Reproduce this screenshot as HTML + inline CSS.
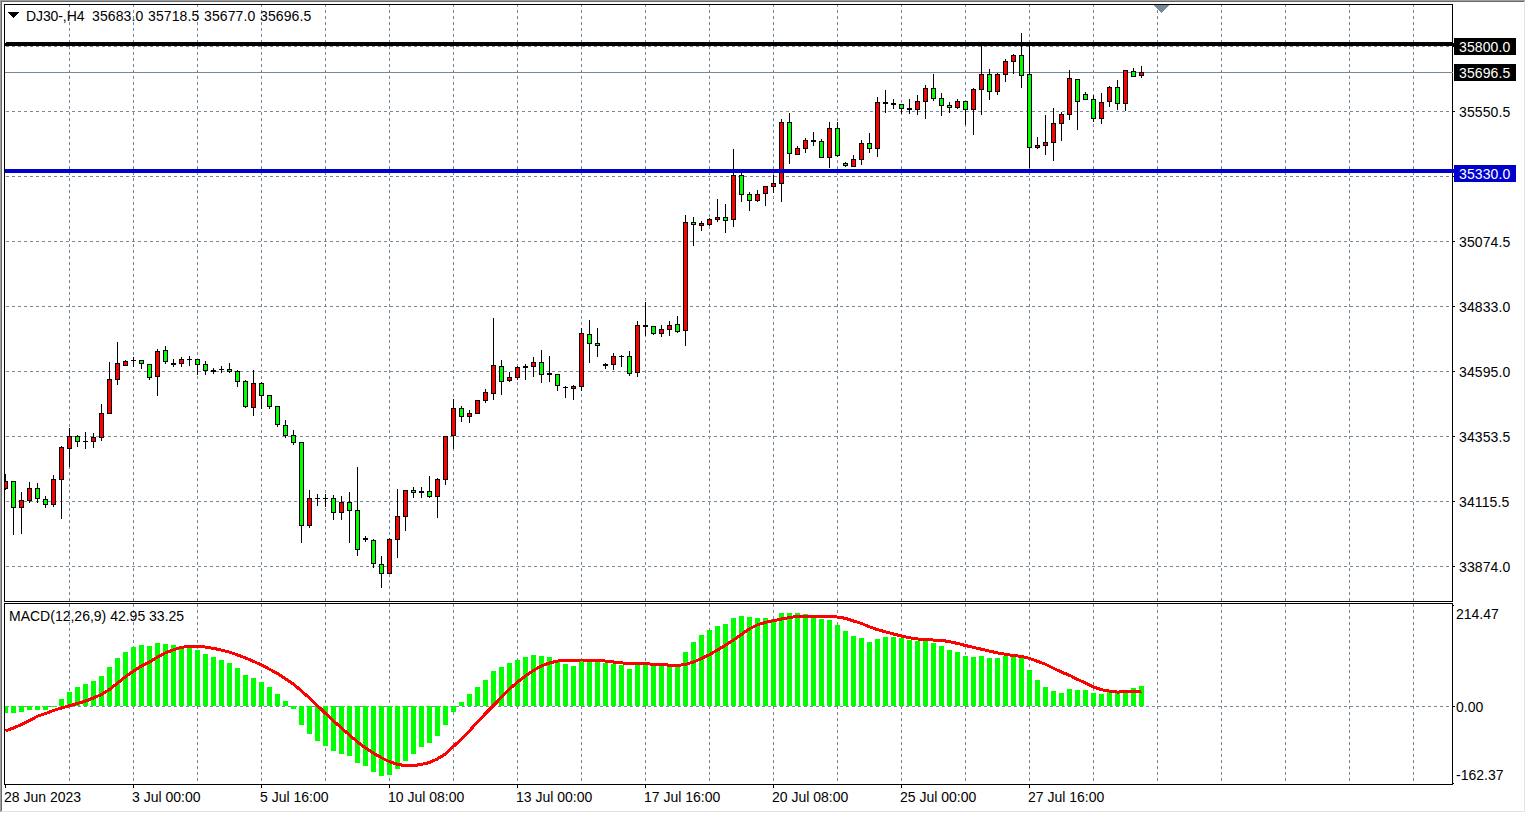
<!DOCTYPE html>
<html><head><meta charset="utf-8"><title>DJ30-,H4</title>
<style>
html,body{margin:0;padding:0;background:#fff;}
body{width:1526px;height:813px;overflow:hidden;position:relative;font-family:"Liberation Sans",sans-serif;}
svg{position:absolute;left:0;top:0;display:block;}
text{font-family:"Liberation Sans",sans-serif;font-size:14px;fill:#000;}
.n{letter-spacing:0.12px;}
.t{letter-spacing:-0.1px;}
.w{fill:#fff;}
</style></head><body>
<svg width="1526" height="813" viewBox="0 0 1526 813">
<rect x="0" y="0" width="1526" height="813" fill="#fff"/>
<g shape-rendering="crispEdges">
<rect x="0" y="0" width="1525" height="1" fill="#a0a0a0"/><rect x="0" y="0" width="1" height="812" fill="#a0a0a0"/><rect x="1" y="1" width="1523" height="1" fill="#696969"/><rect x="1" y="1" width="1" height="810" fill="#696969"/><rect x="1524" y="1" width="1" height="811" fill="#e3e3e3"/><rect x="1" y="811" width="1524" height="1" fill="#e3e3e3"/>
<g stroke="#778899" stroke-width="1" stroke-dasharray="3 3" fill="none">
<line x1="69.5" y1="5" x2="69.5" y2="601" stroke-dashoffset="1"/><line x1="69.5" y1="604" x2="69.5" y2="784" stroke-dashoffset="0"/>
<line x1="133.5" y1="5" x2="133.5" y2="601" stroke-dashoffset="1"/><line x1="133.5" y1="604" x2="133.5" y2="784" stroke-dashoffset="0"/>
<line x1="197.5" y1="5" x2="197.5" y2="601" stroke-dashoffset="1"/><line x1="197.5" y1="604" x2="197.5" y2="784" stroke-dashoffset="0"/>
<line x1="261.5" y1="5" x2="261.5" y2="601" stroke-dashoffset="1"/><line x1="261.5" y1="604" x2="261.5" y2="784" stroke-dashoffset="0"/>
<line x1="325.5" y1="5" x2="325.5" y2="601" stroke-dashoffset="1"/><line x1="325.5" y1="604" x2="325.5" y2="784" stroke-dashoffset="0"/>
<line x1="389.5" y1="5" x2="389.5" y2="601" stroke-dashoffset="1"/><line x1="389.5" y1="604" x2="389.5" y2="784" stroke-dashoffset="0"/>
<line x1="453.5" y1="5" x2="453.5" y2="601" stroke-dashoffset="1"/><line x1="453.5" y1="604" x2="453.5" y2="784" stroke-dashoffset="0"/>
<line x1="517.5" y1="5" x2="517.5" y2="601" stroke-dashoffset="1"/><line x1="517.5" y1="604" x2="517.5" y2="784" stroke-dashoffset="0"/>
<line x1="581.5" y1="5" x2="581.5" y2="601" stroke-dashoffset="1"/><line x1="581.5" y1="604" x2="581.5" y2="784" stroke-dashoffset="0"/>
<line x1="645.5" y1="5" x2="645.5" y2="601" stroke-dashoffset="1"/><line x1="645.5" y1="604" x2="645.5" y2="784" stroke-dashoffset="0"/>
<line x1="709.5" y1="5" x2="709.5" y2="601" stroke-dashoffset="1"/><line x1="709.5" y1="604" x2="709.5" y2="784" stroke-dashoffset="0"/>
<line x1="773.5" y1="5" x2="773.5" y2="601" stroke-dashoffset="1"/><line x1="773.5" y1="604" x2="773.5" y2="784" stroke-dashoffset="0"/>
<line x1="837.5" y1="5" x2="837.5" y2="601" stroke-dashoffset="1"/><line x1="837.5" y1="604" x2="837.5" y2="784" stroke-dashoffset="0"/>
<line x1="901.5" y1="5" x2="901.5" y2="601" stroke-dashoffset="1"/><line x1="901.5" y1="604" x2="901.5" y2="784" stroke-dashoffset="0"/>
<line x1="965.5" y1="5" x2="965.5" y2="601" stroke-dashoffset="1"/><line x1="965.5" y1="604" x2="965.5" y2="784" stroke-dashoffset="0"/>
<line x1="1029.5" y1="5" x2="1029.5" y2="601" stroke-dashoffset="1"/><line x1="1029.5" y1="604" x2="1029.5" y2="784" stroke-dashoffset="0"/>
<line x1="1093.5" y1="5" x2="1093.5" y2="601" stroke-dashoffset="1"/><line x1="1093.5" y1="604" x2="1093.5" y2="784" stroke-dashoffset="0"/>
<line x1="1157.5" y1="5" x2="1157.5" y2="601" stroke-dashoffset="1"/><line x1="1157.5" y1="604" x2="1157.5" y2="784" stroke-dashoffset="0"/>
<line x1="1221.5" y1="5" x2="1221.5" y2="601" stroke-dashoffset="1"/><line x1="1221.5" y1="604" x2="1221.5" y2="784" stroke-dashoffset="0"/>
<line x1="1285.5" y1="5" x2="1285.5" y2="601" stroke-dashoffset="1"/><line x1="1285.5" y1="604" x2="1285.5" y2="784" stroke-dashoffset="0"/>
<line x1="1349.5" y1="5" x2="1349.5" y2="601" stroke-dashoffset="1"/><line x1="1349.5" y1="604" x2="1349.5" y2="784" stroke-dashoffset="0"/>
<line x1="1413.5" y1="5" x2="1413.5" y2="601" stroke-dashoffset="1"/><line x1="1413.5" y1="604" x2="1413.5" y2="784" stroke-dashoffset="0"/>
<line x1="5" y1="46.5" x2="1452" y2="46.5" stroke-dashoffset="5"/>
<line x1="5" y1="111.5" x2="1452" y2="111.5" stroke-dashoffset="5"/>
<line x1="5" y1="176.5" x2="1452" y2="176.5" stroke-dashoffset="5"/>
<line x1="5" y1="241.5" x2="1452" y2="241.5" stroke-dashoffset="5"/>
<line x1="5" y1="306.5" x2="1452" y2="306.5" stroke-dashoffset="5"/>
<line x1="5" y1="371.5" x2="1452" y2="371.5" stroke-dashoffset="5"/>
<line x1="5" y1="436.5" x2="1452" y2="436.5" stroke-dashoffset="5"/>
<line x1="5" y1="501.5" x2="1452" y2="501.5" stroke-dashoffset="5"/>
<line x1="5" y1="566.5" x2="1452" y2="566.5" stroke-dashoffset="5"/>
<line x1="5" y1="706.5" x2="1452" y2="706.5" stroke-dashoffset="5"/></g>
<rect x="5" y="72" width="1447" height="1" fill="#778899"/>
<g fill="#00ff00">
<rect x="5" y="706" width="3" height="7"/><rect x="11" y="706" width="5" height="7"/><rect x="19" y="706" width="5" height="6"/><rect x="27" y="706" width="5" height="4"/><rect x="35" y="706" width="5" height="4"/><rect x="43" y="706" width="5" height="4"/><rect x="51" y="706" width="5" height="1"/><rect x="59" y="699" width="5" height="7"/><rect x="67" y="692" width="5" height="14"/><rect x="75" y="687" width="5" height="19"/><rect x="83" y="684" width="5" height="22"/><rect x="91" y="681" width="5" height="25"/><rect x="99" y="676" width="5" height="30"/><rect x="107" y="667" width="5" height="39"/><rect x="115" y="658" width="5" height="48"/><rect x="123" y="652" width="5" height="54"/><rect x="131" y="647" width="5" height="59"/><rect x="139" y="645" width="5" height="61"/><rect x="147" y="646" width="5" height="60"/><rect x="155" y="643" width="5" height="63"/><rect x="163" y="644" width="5" height="62"/><rect x="171" y="645" width="5" height="61"/><rect x="179" y="646" width="5" height="60"/><rect x="187" y="647" width="5" height="59"/><rect x="195" y="650" width="5" height="56"/><rect x="203" y="654" width="5" height="52"/><rect x="211" y="657" width="5" height="49"/><rect x="219" y="660" width="5" height="46"/><rect x="227" y="663" width="5" height="43"/><rect x="235" y="668" width="5" height="38"/><rect x="243" y="675" width="5" height="31"/><rect x="251" y="678" width="5" height="28"/><rect x="259" y="682" width="5" height="24"/><rect x="267" y="687" width="5" height="19"/><rect x="275" y="694" width="5" height="12"/><rect x="283" y="701" width="5" height="5"/><rect x="291" y="706" width="5" height="3"/><rect x="299" y="706" width="5" height="19"/><rect x="307" y="706" width="5" height="28"/><rect x="315" y="706" width="5" height="35"/><rect x="323" y="706" width="5" height="40"/><rect x="331" y="706" width="5" height="45"/><rect x="339" y="706" width="5" height="48"/><rect x="347" y="706" width="5" height="50"/><rect x="355" y="706" width="5" height="57"/><rect x="363" y="706" width="5" height="60"/><rect x="371" y="706" width="5" height="66"/><rect x="379" y="706" width="5" height="70"/><rect x="387" y="706" width="5" height="69"/><rect x="395" y="706" width="5" height="63"/><rect x="403" y="706" width="5" height="55"/><rect x="411" y="706" width="5" height="48"/><rect x="419" y="706" width="5" height="41"/><rect x="427" y="706" width="5" height="37"/><rect x="435" y="706" width="5" height="30"/><rect x="443" y="706" width="5" height="19"/><rect x="451" y="706" width="5" height="6"/><rect x="459" y="702" width="5" height="4"/><rect x="467" y="694" width="5" height="12"/><rect x="475" y="687" width="5" height="19"/><rect x="483" y="680" width="5" height="26"/><rect x="491" y="671" width="5" height="35"/><rect x="499" y="667" width="5" height="39"/><rect x="507" y="663" width="5" height="43"/><rect x="515" y="660" width="5" height="46"/><rect x="523" y="657" width="5" height="49"/><rect x="531" y="655" width="5" height="51"/><rect x="539" y="656" width="5" height="50"/><rect x="547" y="657" width="5" height="49"/><rect x="555" y="661" width="5" height="45"/><rect x="563" y="664" width="5" height="42"/><rect x="571" y="666" width="5" height="40"/><rect x="579" y="661" width="5" height="45"/><rect x="587" y="661" width="5" height="45"/><rect x="595" y="661" width="5" height="45"/><rect x="603" y="663" width="5" height="43"/><rect x="611" y="664" width="5" height="42"/><rect x="619" y="665" width="5" height="41"/><rect x="627" y="669" width="5" height="37"/><rect x="635" y="665" width="5" height="41"/><rect x="643" y="665" width="5" height="41"/><rect x="651" y="665" width="5" height="41"/><rect x="659" y="666" width="5" height="40"/><rect x="667" y="667" width="5" height="39"/><rect x="675" y="667" width="5" height="39"/><rect x="683" y="652" width="5" height="54"/><rect x="691" y="642" width="5" height="64"/><rect x="699" y="635" width="5" height="71"/><rect x="707" y="630" width="5" height="76"/><rect x="715" y="626" width="5" height="80"/><rect x="723" y="624" width="5" height="82"/><rect x="731" y="618" width="5" height="88"/><rect x="739" y="616" width="5" height="90"/><rect x="747" y="617" width="5" height="89"/><rect x="755" y="618" width="5" height="88"/><rect x="763" y="618" width="5" height="88"/><rect x="771" y="619" width="5" height="87"/><rect x="779" y="613" width="5" height="93"/><rect x="787" y="613" width="5" height="93"/><rect x="795" y="613" width="5" height="93"/><rect x="803" y="614" width="5" height="92"/><rect x="811" y="616" width="5" height="90"/><rect x="819" y="619" width="5" height="87"/><rect x="827" y="620" width="5" height="86"/><rect x="835" y="625" width="5" height="81"/><rect x="843" y="631" width="5" height="75"/><rect x="851" y="636" width="5" height="70"/><rect x="859" y="638" width="5" height="68"/><rect x="867" y="642" width="5" height="64"/><rect x="875" y="639" width="5" height="67"/><rect x="883" y="637" width="5" height="69"/><rect x="891" y="637" width="5" height="69"/><rect x="899" y="638" width="5" height="68"/><rect x="907" y="640" width="5" height="66"/><rect x="915" y="641" width="5" height="65"/><rect x="923" y="641" width="5" height="65"/><rect x="931" y="643" width="5" height="63"/><rect x="939" y="646" width="5" height="60"/><rect x="947" y="650" width="5" height="56"/><rect x="955" y="652" width="5" height="54"/><rect x="963" y="656" width="5" height="50"/><rect x="971" y="657" width="5" height="49"/><rect x="979" y="656" width="5" height="50"/><rect x="987" y="658" width="5" height="48"/><rect x="995" y="658" width="5" height="48"/><rect x="1003" y="656" width="5" height="50"/><rect x="1011" y="657" width="5" height="49"/><rect x="1019" y="658" width="5" height="48"/><rect x="1027" y="670" width="5" height="36"/><rect x="1035" y="680" width="5" height="26"/><rect x="1043" y="687" width="5" height="19"/><rect x="1051" y="691" width="5" height="15"/><rect x="1059" y="693" width="5" height="13"/><rect x="1067" y="689" width="5" height="17"/><rect x="1075" y="690" width="5" height="16"/><rect x="1083" y="690" width="5" height="16"/><rect x="1091" y="693" width="5" height="13"/><rect x="1099" y="694" width="5" height="12"/><rect x="1107" y="692" width="5" height="14"/><rect x="1115" y="693" width="5" height="13"/><rect x="1123" y="692" width="5" height="14"/><rect x="1131" y="688" width="5" height="18"/><rect x="1139" y="686" width="5" height="20"/>
</g>
<g>
<rect x="5" y="474" width="1" height="16" fill="#000"/><rect x="5" y="481" width="3" height="8" fill="#000"/><rect x="5" y="482" width="2" height="6" fill="#ff0000"/>
<rect x="13" y="481" width="1" height="54" fill="#000"/><rect x="11" y="481" width="5" height="27" fill="#000"/><rect x="12" y="482" width="3" height="25" fill="#00ff00"/>
<rect x="21" y="492" width="1" height="42" fill="#000"/><rect x="19" y="500" width="5" height="8" fill="#000"/><rect x="20" y="501" width="3" height="6" fill="#ff0000"/>
<rect x="29" y="482" width="1" height="21" fill="#000"/><rect x="27" y="488" width="5" height="13" fill="#000"/><rect x="28" y="489" width="3" height="11" fill="#ff0000"/>
<rect x="37" y="483" width="1" height="20" fill="#000"/><rect x="35" y="488" width="5" height="11" fill="#000"/><rect x="36" y="489" width="3" height="9" fill="#00ff00"/>
<rect x="45" y="496" width="1" height="12" fill="#000"/><rect x="43" y="499" width="5" height="6" fill="#000"/><rect x="44" y="500" width="3" height="4" fill="#00ff00"/>
<rect x="53" y="475" width="1" height="32" fill="#000"/><rect x="51" y="479" width="5" height="26" fill="#000"/><rect x="52" y="480" width="3" height="24" fill="#ff0000"/>
<rect x="61" y="446" width="1" height="73" fill="#000"/><rect x="59" y="447" width="5" height="33" fill="#000"/><rect x="60" y="448" width="3" height="31" fill="#ff0000"/>
<rect x="69" y="428" width="1" height="39" fill="#000"/><rect x="67" y="436" width="5" height="13" fill="#000"/><rect x="68" y="437" width="3" height="11" fill="#ff0000"/>
<rect x="77" y="435" width="1" height="12" fill="#000"/><rect x="75" y="436" width="5" height="6" fill="#000"/><rect x="76" y="437" width="3" height="4" fill="#00ff00"/>
<rect x="85" y="432" width="1" height="17" fill="#000"/><rect x="83" y="441" width="5" height="1" fill="#000"/>
<rect x="93" y="433" width="1" height="15" fill="#000"/><rect x="91" y="437" width="5" height="5" fill="#000"/><rect x="92" y="438" width="3" height="3" fill="#ff0000"/>
<rect x="101" y="404" width="1" height="37" fill="#000"/><rect x="99" y="413" width="5" height="25" fill="#000"/><rect x="100" y="414" width="3" height="23" fill="#ff0000"/>
<rect x="109" y="362" width="1" height="52" fill="#000"/><rect x="107" y="379" width="5" height="35" fill="#000"/><rect x="108" y="380" width="3" height="33" fill="#ff0000"/>
<rect x="117" y="342" width="1" height="43" fill="#000"/><rect x="115" y="363" width="5" height="17" fill="#000"/><rect x="116" y="364" width="3" height="15" fill="#ff0000"/>
<rect x="125" y="360" width="1" height="6" fill="#000"/><rect x="123" y="361" width="5" height="5" fill="#000"/><rect x="124" y="362" width="3" height="3" fill="#ff0000"/>
<rect x="133" y="357" width="1" height="10" fill="#000"/><rect x="131" y="360" width="5" height="1" fill="#000"/>
<rect x="141" y="360" width="1" height="9" fill="#000"/><rect x="139" y="360" width="5" height="4" fill="#000"/><rect x="140" y="361" width="3" height="2" fill="#00ff00"/>
<rect x="149" y="364" width="1" height="16" fill="#000"/><rect x="147" y="364" width="5" height="14" fill="#000"/><rect x="148" y="365" width="3" height="12" fill="#00ff00"/>
<rect x="157" y="349" width="1" height="47" fill="#000"/><rect x="155" y="351" width="5" height="26" fill="#000"/><rect x="156" y="352" width="3" height="24" fill="#ff0000"/>
<rect x="165" y="346" width="1" height="18" fill="#000"/><rect x="163" y="350" width="5" height="12" fill="#000"/><rect x="164" y="351" width="3" height="10" fill="#00ff00"/>
<rect x="173" y="359" width="1" height="8" fill="#000"/><rect x="171" y="363" width="5" height="2" fill="#000"/>
<rect x="181" y="357" width="1" height="10" fill="#000"/><rect x="179" y="359" width="5" height="5" fill="#000"/><rect x="180" y="360" width="3" height="3" fill="#ff0000"/>
<rect x="189" y="356" width="1" height="10" fill="#000"/><rect x="187" y="359" width="5" height="1" fill="#000"/>
<rect x="197" y="359" width="1" height="16" fill="#000"/><rect x="195" y="359" width="5" height="6" fill="#000"/><rect x="196" y="360" width="3" height="4" fill="#00ff00"/>
<rect x="205" y="361" width="1" height="14" fill="#000"/><rect x="203" y="364" width="5" height="7" fill="#000"/><rect x="204" y="365" width="3" height="5" fill="#00ff00"/>
<rect x="213" y="368" width="1" height="6" fill="#000"/><rect x="211" y="370" width="5" height="2" fill="#000"/>
<rect x="221" y="366" width="1" height="7" fill="#000"/><rect x="219" y="369" width="5" height="1" fill="#000"/>
<rect x="229" y="363" width="1" height="10" fill="#000"/><rect x="227" y="369" width="5" height="3" fill="#000"/><rect x="228" y="370" width="3" height="1" fill="#00ff00"/>
<rect x="237" y="370" width="1" height="17" fill="#000"/><rect x="235" y="371" width="5" height="11" fill="#000"/><rect x="236" y="372" width="3" height="9" fill="#00ff00"/>
<rect x="245" y="380" width="1" height="28" fill="#000"/><rect x="243" y="381" width="5" height="26" fill="#000"/><rect x="244" y="382" width="3" height="24" fill="#00ff00"/>
<rect x="253" y="370" width="1" height="46" fill="#000"/><rect x="251" y="383" width="5" height="25" fill="#000"/><rect x="252" y="384" width="3" height="23" fill="#ff0000"/>
<rect x="261" y="382" width="1" height="27" fill="#000"/><rect x="259" y="383" width="5" height="13" fill="#000"/><rect x="260" y="384" width="3" height="11" fill="#00ff00"/>
<rect x="269" y="395" width="1" height="14" fill="#000"/><rect x="267" y="395" width="5" height="12" fill="#000"/><rect x="268" y="396" width="3" height="10" fill="#00ff00"/>
<rect x="277" y="406" width="1" height="21" fill="#000"/><rect x="275" y="406" width="5" height="19" fill="#000"/><rect x="276" y="407" width="3" height="17" fill="#00ff00"/>
<rect x="285" y="420" width="1" height="18" fill="#000"/><rect x="283" y="425" width="5" height="11" fill="#000"/><rect x="284" y="426" width="3" height="9" fill="#00ff00"/>
<rect x="293" y="430" width="1" height="15" fill="#000"/><rect x="291" y="435" width="5" height="8" fill="#000"/><rect x="292" y="436" width="3" height="6" fill="#00ff00"/>
<rect x="301" y="442" width="1" height="101" fill="#000"/><rect x="299" y="442" width="5" height="84" fill="#000"/><rect x="300" y="443" width="3" height="82" fill="#00ff00"/>
<rect x="309" y="490" width="1" height="38" fill="#000"/><rect x="307" y="498" width="5" height="28" fill="#000"/><rect x="308" y="499" width="3" height="26" fill="#ff0000"/>
<rect x="317" y="494" width="1" height="12" fill="#000"/><rect x="315" y="498" width="5" height="1" fill="#000"/>
<rect x="325" y="494" width="1" height="13" fill="#000"/><rect x="323" y="498" width="5" height="1" fill="#000"/>
<rect x="333" y="495" width="1" height="25" fill="#000"/><rect x="331" y="498" width="5" height="15" fill="#000"/><rect x="332" y="499" width="3" height="13" fill="#00ff00"/>
<rect x="341" y="496" width="1" height="24" fill="#000"/><rect x="339" y="502" width="5" height="11" fill="#000"/><rect x="340" y="503" width="3" height="9" fill="#ff0000"/>
<rect x="349" y="492" width="1" height="51" fill="#000"/><rect x="347" y="502" width="5" height="9" fill="#000"/><rect x="348" y="503" width="3" height="7" fill="#00ff00"/>
<rect x="357" y="467" width="1" height="89" fill="#000"/><rect x="355" y="510" width="5" height="40" fill="#000"/><rect x="356" y="511" width="3" height="38" fill="#00ff00"/>
<rect x="365" y="536" width="1" height="6" fill="#000"/><rect x="363" y="538" width="5" height="2" fill="#000"/>
<rect x="373" y="539" width="1" height="29" fill="#000"/><rect x="371" y="540" width="5" height="24" fill="#000"/><rect x="372" y="541" width="3" height="22" fill="#00ff00"/>
<rect x="381" y="556" width="1" height="32" fill="#000"/><rect x="379" y="564" width="5" height="10" fill="#000"/><rect x="380" y="565" width="3" height="8" fill="#00ff00"/>
<rect x="389" y="538" width="1" height="36" fill="#000"/><rect x="387" y="539" width="5" height="35" fill="#000"/><rect x="388" y="540" width="3" height="33" fill="#ff0000"/>
<rect x="397" y="489" width="1" height="69" fill="#000"/><rect x="395" y="516" width="5" height="24" fill="#000"/><rect x="396" y="517" width="3" height="22" fill="#ff0000"/>
<rect x="405" y="490" width="1" height="41" fill="#000"/><rect x="403" y="490" width="5" height="27" fill="#000"/><rect x="404" y="491" width="3" height="25" fill="#ff0000"/>
<rect x="413" y="487" width="1" height="11" fill="#000"/><rect x="411" y="490" width="5" height="3" fill="#000"/><rect x="412" y="491" width="3" height="1" fill="#00ff00"/>
<rect x="421" y="487" width="1" height="11" fill="#000"/><rect x="419" y="491" width="5" height="2" fill="#000"/>
<rect x="429" y="476" width="1" height="22" fill="#000"/><rect x="427" y="491" width="5" height="6" fill="#000"/><rect x="428" y="492" width="3" height="4" fill="#00ff00"/>
<rect x="437" y="478" width="1" height="40" fill="#000"/><rect x="435" y="479" width="5" height="18" fill="#000"/><rect x="436" y="480" width="3" height="16" fill="#ff0000"/>
<rect x="445" y="436" width="1" height="49" fill="#000"/><rect x="443" y="436" width="5" height="44" fill="#000"/><rect x="444" y="437" width="3" height="42" fill="#ff0000"/>
<rect x="453" y="399" width="1" height="50" fill="#000"/><rect x="451" y="408" width="5" height="28" fill="#000"/><rect x="452" y="409" width="3" height="26" fill="#ff0000"/>
<rect x="461" y="406" width="1" height="16" fill="#000"/><rect x="459" y="408" width="5" height="9" fill="#000"/><rect x="460" y="409" width="3" height="7" fill="#00ff00"/>
<rect x="469" y="410" width="1" height="13" fill="#000"/><rect x="467" y="413" width="5" height="4" fill="#000"/><rect x="468" y="414" width="3" height="2" fill="#ff0000"/>
<rect x="477" y="400" width="1" height="14" fill="#000"/><rect x="475" y="400" width="5" height="14" fill="#000"/><rect x="476" y="401" width="3" height="12" fill="#ff0000"/>
<rect x="485" y="389" width="1" height="14" fill="#000"/><rect x="483" y="392" width="5" height="9" fill="#000"/><rect x="484" y="393" width="3" height="7" fill="#ff0000"/>
<rect x="493" y="318" width="1" height="82" fill="#000"/><rect x="491" y="365" width="5" height="29" fill="#000"/><rect x="492" y="366" width="3" height="27" fill="#ff0000"/>
<rect x="501" y="360" width="1" height="35" fill="#000"/><rect x="499" y="366" width="5" height="16" fill="#000"/><rect x="500" y="367" width="3" height="14" fill="#00ff00"/>
<rect x="509" y="372" width="1" height="10" fill="#000"/><rect x="507" y="377" width="5" height="4" fill="#000"/><rect x="508" y="378" width="3" height="2" fill="#ff0000"/>
<rect x="517" y="366" width="1" height="14" fill="#000"/><rect x="515" y="367" width="5" height="11" fill="#000"/><rect x="516" y="368" width="3" height="9" fill="#ff0000"/>
<rect x="525" y="364" width="1" height="16" fill="#000"/><rect x="523" y="366" width="5" height="2" fill="#000"/>
<rect x="533" y="357" width="1" height="20" fill="#000"/><rect x="531" y="362" width="5" height="5" fill="#000"/><rect x="532" y="363" width="3" height="3" fill="#ff0000"/>
<rect x="541" y="350" width="1" height="33" fill="#000"/><rect x="539" y="362" width="5" height="13" fill="#000"/><rect x="540" y="363" width="3" height="11" fill="#00ff00"/>
<rect x="549" y="356" width="1" height="26" fill="#000"/><rect x="547" y="373" width="5" height="2" fill="#000"/>
<rect x="557" y="374" width="1" height="17" fill="#000"/><rect x="555" y="374" width="5" height="12" fill="#000"/><rect x="556" y="375" width="3" height="10" fill="#00ff00"/>
<rect x="565" y="386" width="1" height="12" fill="#000"/><rect x="563" y="387" width="5" height="1" fill="#000"/>
<rect x="573" y="385" width="1" height="15" fill="#000"/><rect x="571" y="386" width="5" height="3" fill="#000"/><rect x="572" y="387" width="3" height="1" fill="#ff0000"/>
<rect x="581" y="328" width="1" height="63" fill="#000"/><rect x="579" y="333" width="5" height="54" fill="#000"/><rect x="580" y="334" width="3" height="52" fill="#ff0000"/>
<rect x="589" y="320" width="1" height="43" fill="#000"/><rect x="587" y="334" width="5" height="10" fill="#000"/><rect x="588" y="335" width="3" height="8" fill="#00ff00"/>
<rect x="597" y="328" width="1" height="29" fill="#000"/><rect x="595" y="343" width="5" height="3" fill="#000"/><rect x="596" y="344" width="3" height="1" fill="#00ff00"/>
<rect x="605" y="363" width="1" height="6" fill="#000"/><rect x="603" y="364" width="5" height="2" fill="#000"/>
<rect x="613" y="353" width="1" height="17" fill="#000"/><rect x="611" y="356" width="5" height="9" fill="#000"/><rect x="612" y="357" width="3" height="7" fill="#ff0000"/>
<rect x="621" y="355" width="1" height="12" fill="#000"/><rect x="619" y="356" width="5" height="1" fill="#000"/>
<rect x="629" y="351" width="1" height="25" fill="#000"/><rect x="627" y="356" width="5" height="18" fill="#000"/><rect x="628" y="357" width="3" height="16" fill="#00ff00"/>
<rect x="637" y="321" width="1" height="56" fill="#000"/><rect x="635" y="325" width="5" height="48" fill="#000"/><rect x="636" y="326" width="3" height="46" fill="#ff0000"/>
<rect x="645" y="302" width="1" height="34" fill="#000"/><rect x="643" y="325" width="5" height="2" fill="#000"/>
<rect x="653" y="326" width="1" height="9" fill="#000"/><rect x="651" y="326" width="5" height="8" fill="#000"/><rect x="652" y="327" width="3" height="6" fill="#00ff00"/>
<rect x="661" y="325" width="1" height="12" fill="#000"/><rect x="659" y="329" width="5" height="5" fill="#000"/><rect x="660" y="330" width="3" height="3" fill="#ff0000"/>
<rect x="669" y="321" width="1" height="15" fill="#000"/><rect x="667" y="325" width="5" height="5" fill="#000"/><rect x="668" y="326" width="3" height="3" fill="#ff0000"/>
<rect x="677" y="316" width="1" height="17" fill="#000"/><rect x="675" y="324" width="5" height="8" fill="#000"/><rect x="676" y="325" width="3" height="6" fill="#00ff00"/>
<rect x="685" y="215" width="1" height="131" fill="#000"/><rect x="683" y="222" width="5" height="109" fill="#000"/><rect x="684" y="223" width="3" height="107" fill="#ff0000"/>
<rect x="693" y="217" width="1" height="29" fill="#000"/><rect x="691" y="222" width="5" height="3" fill="#000"/><rect x="692" y="223" width="3" height="1" fill="#00ff00"/>
<rect x="701" y="221" width="1" height="10" fill="#000"/><rect x="699" y="223" width="5" height="3" fill="#000"/><rect x="700" y="224" width="3" height="1" fill="#ff0000"/>
<rect x="709" y="218" width="1" height="8" fill="#000"/><rect x="707" y="219" width="5" height="6" fill="#000"/><rect x="708" y="220" width="3" height="4" fill="#ff0000"/>
<rect x="717" y="199" width="1" height="23" fill="#000"/><rect x="715" y="217" width="5" height="3" fill="#000"/><rect x="716" y="218" width="3" height="1" fill="#ff0000"/>
<rect x="725" y="204" width="1" height="29" fill="#000"/><rect x="723" y="217" width="5" height="4" fill="#000"/><rect x="724" y="218" width="3" height="2" fill="#00ff00"/>
<rect x="733" y="149" width="1" height="78" fill="#000"/><rect x="731" y="175" width="5" height="45" fill="#000"/><rect x="732" y="176" width="3" height="43" fill="#ff0000"/>
<rect x="741" y="173" width="1" height="29" fill="#000"/><rect x="739" y="175" width="5" height="20" fill="#000"/><rect x="740" y="176" width="3" height="18" fill="#00ff00"/>
<rect x="749" y="192" width="1" height="19" fill="#000"/><rect x="747" y="194" width="5" height="7" fill="#000"/><rect x="748" y="195" width="3" height="5" fill="#00ff00"/>
<rect x="757" y="190" width="1" height="12" fill="#000"/><rect x="755" y="194" width="5" height="7" fill="#000"/><rect x="756" y="195" width="3" height="5" fill="#ff0000"/>
<rect x="765" y="186" width="1" height="20" fill="#000"/><rect x="763" y="186" width="5" height="8" fill="#000"/><rect x="764" y="187" width="3" height="6" fill="#ff0000"/>
<rect x="773" y="175" width="1" height="18" fill="#000"/><rect x="771" y="183" width="5" height="4" fill="#000"/><rect x="772" y="184" width="3" height="2" fill="#ff0000"/>
<rect x="781" y="119" width="1" height="83" fill="#000"/><rect x="779" y="122" width="5" height="62" fill="#000"/><rect x="780" y="123" width="3" height="60" fill="#ff0000"/>
<rect x="789" y="113" width="1" height="51" fill="#000"/><rect x="787" y="122" width="5" height="32" fill="#000"/><rect x="788" y="123" width="3" height="30" fill="#00ff00"/>
<rect x="797" y="146" width="1" height="9" fill="#000"/><rect x="795" y="148" width="5" height="7" fill="#000"/><rect x="796" y="149" width="3" height="5" fill="#ff0000"/>
<rect x="805" y="138" width="1" height="15" fill="#000"/><rect x="803" y="140" width="5" height="9" fill="#000"/><rect x="804" y="141" width="3" height="7" fill="#ff0000"/>
<rect x="813" y="132" width="1" height="14" fill="#000"/><rect x="811" y="140" width="5" height="2" fill="#000"/>
<rect x="821" y="139" width="1" height="19" fill="#000"/><rect x="819" y="141" width="5" height="17" fill="#000"/><rect x="820" y="142" width="3" height="15" fill="#00ff00"/>
<rect x="829" y="122" width="1" height="46" fill="#000"/><rect x="827" y="128" width="5" height="30" fill="#000"/><rect x="828" y="129" width="3" height="28" fill="#ff0000"/>
<rect x="837" y="122" width="1" height="35" fill="#000"/><rect x="835" y="128" width="5" height="28" fill="#000"/><rect x="836" y="129" width="3" height="26" fill="#00ff00"/>
<rect x="845" y="162" width="1" height="5" fill="#000"/><rect x="843" y="163" width="5" height="3" fill="#000"/><rect x="844" y="164" width="3" height="1" fill="#00ff00"/>
<rect x="853" y="155" width="1" height="12" fill="#000"/><rect x="851" y="159" width="5" height="8" fill="#000"/><rect x="852" y="160" width="3" height="6" fill="#ff0000"/>
<rect x="861" y="140" width="1" height="25" fill="#000"/><rect x="859" y="143" width="5" height="17" fill="#000"/><rect x="860" y="144" width="3" height="15" fill="#ff0000"/>
<rect x="869" y="133" width="1" height="20" fill="#000"/><rect x="867" y="143" width="5" height="6" fill="#000"/><rect x="868" y="144" width="3" height="4" fill="#00ff00"/>
<rect x="877" y="97" width="1" height="60" fill="#000"/><rect x="875" y="102" width="5" height="47" fill="#000"/><rect x="876" y="103" width="3" height="45" fill="#ff0000"/>
<rect x="885" y="90" width="1" height="23" fill="#000"/><rect x="883" y="102" width="5" height="2" fill="#000"/>
<rect x="893" y="99" width="1" height="10" fill="#000"/><rect x="891" y="103" width="5" height="2" fill="#000"/>
<rect x="901" y="104" width="1" height="10" fill="#000"/><rect x="899" y="104" width="5" height="5" fill="#000"/><rect x="900" y="105" width="3" height="3" fill="#00ff00"/>
<rect x="909" y="99" width="1" height="15" fill="#000"/><rect x="907" y="108" width="5" height="2" fill="#000"/>
<rect x="917" y="95" width="1" height="20" fill="#000"/><rect x="915" y="101" width="5" height="9" fill="#000"/><rect x="916" y="102" width="3" height="7" fill="#ff0000"/>
<rect x="925" y="85" width="1" height="34" fill="#000"/><rect x="923" y="88" width="5" height="14" fill="#000"/><rect x="924" y="89" width="3" height="12" fill="#ff0000"/>
<rect x="933" y="74" width="1" height="27" fill="#000"/><rect x="931" y="88" width="5" height="11" fill="#000"/><rect x="932" y="89" width="3" height="9" fill="#00ff00"/>
<rect x="941" y="93" width="1" height="23" fill="#000"/><rect x="939" y="98" width="5" height="8" fill="#000"/><rect x="940" y="99" width="3" height="6" fill="#00ff00"/>
<rect x="949" y="102" width="1" height="11" fill="#000"/><rect x="947" y="105" width="5" height="3" fill="#000"/><rect x="948" y="106" width="3" height="1" fill="#00ff00"/>
<rect x="957" y="99" width="1" height="10" fill="#000"/><rect x="955" y="101" width="5" height="7" fill="#000"/><rect x="956" y="102" width="3" height="5" fill="#ff0000"/>
<rect x="965" y="101" width="1" height="24" fill="#000"/><rect x="963" y="101" width="5" height="9" fill="#000"/><rect x="964" y="102" width="3" height="7" fill="#00ff00"/>
<rect x="973" y="88" width="1" height="47" fill="#000"/><rect x="971" y="89" width="5" height="21" fill="#000"/><rect x="972" y="90" width="3" height="19" fill="#ff0000"/>
<rect x="981" y="44" width="1" height="71" fill="#000"/><rect x="979" y="74" width="5" height="16" fill="#000"/><rect x="980" y="75" width="3" height="14" fill="#ff0000"/>
<rect x="989" y="69" width="1" height="31" fill="#000"/><rect x="987" y="74" width="5" height="18" fill="#000"/><rect x="988" y="75" width="3" height="16" fill="#00ff00"/>
<rect x="997" y="73" width="1" height="22" fill="#000"/><rect x="995" y="74" width="5" height="18" fill="#000"/><rect x="996" y="75" width="3" height="16" fill="#ff0000"/>
<rect x="1005" y="59" width="1" height="23" fill="#000"/><rect x="1003" y="61" width="5" height="14" fill="#000"/><rect x="1004" y="62" width="3" height="12" fill="#ff0000"/>
<rect x="1013" y="54" width="1" height="20" fill="#000"/><rect x="1011" y="55" width="5" height="7" fill="#000"/><rect x="1012" y="56" width="3" height="5" fill="#ff0000"/>
<rect x="1021" y="33" width="1" height="55" fill="#000"/><rect x="1019" y="55" width="5" height="21" fill="#000"/><rect x="1020" y="56" width="3" height="19" fill="#00ff00"/>
<rect x="1029" y="46" width="1" height="122" fill="#000"/><rect x="1027" y="74" width="5" height="74" fill="#000"/><rect x="1028" y="75" width="3" height="72" fill="#00ff00"/>
<rect x="1037" y="137" width="1" height="12" fill="#000"/><rect x="1035" y="145" width="5" height="3" fill="#000"/><rect x="1036" y="146" width="3" height="1" fill="#ff0000"/>
<rect x="1045" y="115" width="1" height="40" fill="#000"/><rect x="1043" y="142" width="5" height="4" fill="#000"/><rect x="1044" y="143" width="3" height="2" fill="#ff0000"/>
<rect x="1053" y="108" width="1" height="53" fill="#000"/><rect x="1051" y="123" width="5" height="20" fill="#000"/><rect x="1052" y="124" width="3" height="18" fill="#ff0000"/>
<rect x="1061" y="112" width="1" height="29" fill="#000"/><rect x="1059" y="114" width="5" height="10" fill="#000"/><rect x="1060" y="115" width="3" height="8" fill="#ff0000"/>
<rect x="1069" y="70" width="1" height="50" fill="#000"/><rect x="1067" y="78" width="5" height="37" fill="#000"/><rect x="1068" y="79" width="3" height="35" fill="#ff0000"/>
<rect x="1077" y="79" width="1" height="51" fill="#000"/><rect x="1075" y="79" width="5" height="23" fill="#000"/><rect x="1076" y="80" width="3" height="21" fill="#00ff00"/>
<rect x="1085" y="92" width="1" height="8" fill="#000"/><rect x="1083" y="94" width="5" height="6" fill="#000"/><rect x="1084" y="95" width="3" height="4" fill="#00ff00"/>
<rect x="1093" y="95" width="1" height="27" fill="#000"/><rect x="1091" y="99" width="5" height="20" fill="#000"/><rect x="1092" y="100" width="3" height="18" fill="#00ff00"/>
<rect x="1101" y="93" width="1" height="31" fill="#000"/><rect x="1099" y="102" width="5" height="17" fill="#000"/><rect x="1100" y="103" width="3" height="15" fill="#ff0000"/>
<rect x="1109" y="86" width="1" height="21" fill="#000"/><rect x="1107" y="87" width="5" height="15" fill="#000"/><rect x="1108" y="88" width="3" height="13" fill="#ff0000"/>
<rect x="1117" y="80" width="1" height="30" fill="#000"/><rect x="1115" y="87" width="5" height="17" fill="#000"/><rect x="1116" y="88" width="3" height="15" fill="#00ff00"/>
<rect x="1125" y="70" width="1" height="41" fill="#000"/><rect x="1123" y="70" width="5" height="34" fill="#000"/><rect x="1124" y="71" width="3" height="32" fill="#ff0000"/>
<rect x="1133" y="68" width="1" height="9" fill="#000"/><rect x="1131" y="71" width="5" height="6" fill="#000"/><rect x="1132" y="72" width="3" height="4" fill="#00ff00"/>
<rect x="1141" y="66" width="1" height="12" fill="#000"/><rect x="1139" y="72" width="5" height="4" fill="#000"/><rect x="1140" y="73" width="3" height="2" fill="#ff0000"/>
</g>
<rect x="6" y="42" width="1447" height="1" fill="#000"/><rect x="5" y="43" width="1448" height="3" fill="#000"/>
<rect x="5" y="169" width="1449" height="4" fill="#0000cd"/>
<g fill="none" stroke="#000" stroke-width="1"><rect x="4.5" y="4.5" width="1448" height="597"/><rect x="4.5" y="603.5" width="1448" height="181"/></g>
<rect x="1452" y="42" width="1" height="4" fill="#000"/><rect x="1453" y="43" width="1" height="4" fill="#000"/><rect x="1452" y="72" width="1" height="1" fill="#778899"/><rect x="1452" y="169" width="2" height="4" fill="#0000cd"/>
<g fill="#000"><rect x="1453" y="111" width="2" height="1"/><rect x="1453" y="176" width="2" height="1"/><rect x="1453" y="241" width="2" height="1"/><rect x="1453" y="306" width="2" height="1"/><rect x="1453" y="371" width="2" height="1"/><rect x="1453" y="436" width="2" height="1"/><rect x="1453" y="501" width="2" height="1"/><rect x="1453" y="566" width="2" height="1"/><rect x="1453" y="706" width="2" height="1"/><rect x="1453" y="605" width="1" height="1"/><rect x="1453" y="783" width="1" height="1"/><rect x="5" y="785" width="1" height="3"/><rect x="133" y="785" width="1" height="3"/><rect x="261" y="785" width="1" height="3"/><rect x="389" y="785" width="1" height="3"/><rect x="517" y="785" width="1" height="3"/><rect x="645" y="785" width="1" height="3"/><rect x="773" y="785" width="1" height="3"/><rect x="901" y="785" width="1" height="3"/><rect x="1029" y="785" width="1" height="3"/></g>
<g fill="#778899"><rect x="1154" y="5" width="15" height="1"/><rect x="1155" y="6" width="13" height="1"/><rect x="1156" y="7" width="11" height="1"/><rect x="1157" y="8" width="9" height="1"/><rect x="1158" y="9" width="7" height="1"/><rect x="1159" y="10" width="5" height="1"/><rect x="1160" y="11" width="3" height="1"/><rect x="1161" y="12" width="1" height="1"/></g>
<g fill="#000"><rect x="8" y="12" width="11" height="1"/><rect x="9" y="13" width="9" height="1"/><rect x="10" y="14" width="7" height="1"/><rect x="11" y="15" width="5" height="1"/><rect x="12" y="16" width="3" height="1"/><rect x="13" y="17" width="1" height="1"/></g>
<rect x="1454" y="38" width="62" height="17" fill="#000"/><rect x="1454" y="64" width="62" height="17" fill="#000"/><rect x="1454" y="165" width="62" height="17" fill="#0000cd"/>
</g>
<polyline fill="none" stroke="#ff0000" stroke-width="3" stroke-linejoin="round" shape-rendering="crispEdges" points="5.5,731.0 13.5,727.9 21.5,724.7 29.5,720.5 37.5,716.2 45.5,713.6 53.5,710.5 61.5,708.0 69.5,705.7 77.5,703.4 85.5,701.1 93.5,697.9 101.5,694.5 109.5,689.5 117.5,683.1 125.5,676.7 133.5,671.2 141.5,666.0 149.5,662.1 157.5,657.1 165.5,652.8 173.5,649.8 181.5,647.3 189.5,646.3 197.5,646.2 205.5,647.1 213.5,648.4 221.5,650.1 229.5,652.1 237.5,654.9 245.5,658.0 253.5,661.4 261.5,664.9 269.5,669.2 277.5,673.6 285.5,678.7 293.5,684.1 301.5,691.0 309.5,698.1 317.5,705.7 325.5,713.4 333.5,720.8 341.5,728.1 349.5,735.0 357.5,742.0 365.5,747.9 373.5,753.3 381.5,757.7 389.5,761.7 397.5,764.4 405.5,765.6 413.5,765.6 421.5,764.4 429.5,762.5 437.5,758.9 445.5,753.9 453.5,746.4 461.5,738.9 469.5,730.8 477.5,721.9 485.5,713.6 493.5,705.5 501.5,697.3 509.5,689.1 517.5,682.1 525.5,675.9 533.5,670.4 541.5,666.0 549.5,662.9 557.5,661.1 565.5,660.2 573.5,660.1 581.5,660.0 589.5,660.1 597.5,660.3 605.5,661.1 613.5,662.0 621.5,662.9 629.5,663.4 637.5,663.9 645.5,663.9 653.5,664.1 661.5,664.4 669.5,665.2 677.5,665.4 685.5,664.5 693.5,662.0 701.5,658.6 709.5,654.7 717.5,650.0 725.5,645.2 733.5,640.1 741.5,634.4 749.5,628.7 757.5,624.8 765.5,622.4 773.5,620.7 781.5,619.0 789.5,617.5 797.5,616.3 805.5,616.1 813.5,616.1 821.5,616.2 829.5,616.3 837.5,617.1 845.5,618.3 853.5,621.0 861.5,623.4 869.5,626.9 877.5,629.6 885.5,631.9 893.5,634.0 901.5,636.0 909.5,637.7 917.5,639.0 925.5,639.3 933.5,640.1 941.5,640.3 949.5,641.7 957.5,643.4 965.5,645.5 973.5,647.4 981.5,649.2 989.5,651.1 997.5,652.9 1005.5,654.3 1013.5,655.6 1021.5,656.4 1029.5,658.4 1037.5,661.3 1045.5,664.2 1053.5,668.3 1061.5,672.1 1069.5,675.3 1077.5,679.4 1085.5,683.0 1093.5,687.0 1101.5,689.7 1109.5,691.1 1117.5,692.1 1125.5,691.6 1133.5,691.3 1141.5,691.1"/>
<text x="26" y="21" class="t" xml:space="preserve">DJ30-,H4</text>
<text x="92" y="21" class="n" xml:space="preserve">35683.0</text>
<text x="148" y="21" class="n" xml:space="preserve">35718.5</text>
<text x="204" y="21" class="n" xml:space="preserve">35677.0</text>
<text x="260" y="21" class="n" xml:space="preserve">35696.5</text>
<text x="9" y="621" xml:space="preserve">MACD(12,26,9) 42.95 33.25</text>
<text x="1459" y="52" class="w n" xml:space="preserve">35800.0</text>
<text x="1459" y="78" class="w n" xml:space="preserve">35696.5</text>
<text x="1459" y="179" class="w n" xml:space="preserve">35330.0</text>
<text x="1459" y="117" class="n" xml:space="preserve">35550.5</text>
<text x="1459" y="247" class="n" xml:space="preserve">35074.5</text>
<text x="1459" y="312" class="n" xml:space="preserve">34833.0</text>
<text x="1459" y="377" class="n" xml:space="preserve">34595.0</text>
<text x="1459" y="442" class="n" xml:space="preserve">34353.5</text>
<text x="1459" y="507" class="n" xml:space="preserve">34115.5</text>
<text x="1459" y="572" class="n" xml:space="preserve">33874.0</text>
<text x="1456" y="619" xml:space="preserve">214.47</text>
<text x="1456" y="712" xml:space="preserve">0.00</text>
<text x="1456" y="780" xml:space="preserve">-162.37</text>
<text x="4" y="802" xml:space="preserve">28 Jun 2023</text>
<text x="132" y="802" xml:space="preserve">3 Jul 00:00</text>
<text x="260" y="802" xml:space="preserve">5 Jul 16:00</text>
<text x="388" y="802" xml:space="preserve">10 Jul 08:00</text>
<text x="516" y="802" xml:space="preserve">13 Jul 00:00</text>
<text x="644" y="802" xml:space="preserve">17 Jul 16:00</text>
<text x="772" y="802" xml:space="preserve">20 Jul 08:00</text>
<text x="900" y="802" xml:space="preserve">25 Jul 00:00</text>
<text x="1028" y="802" xml:space="preserve">27 Jul 16:00</text>
</svg>
</body></html>
